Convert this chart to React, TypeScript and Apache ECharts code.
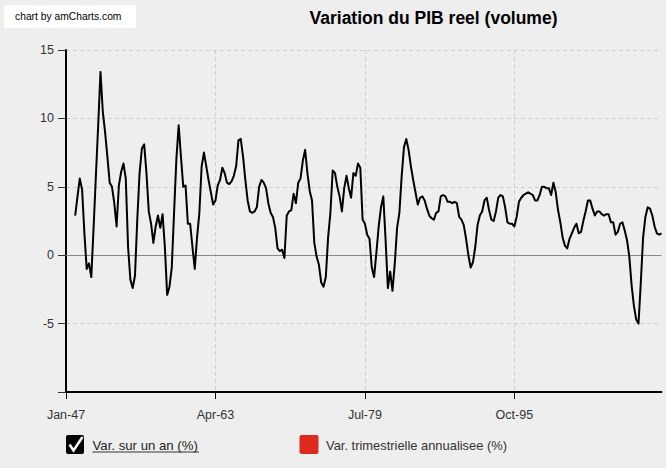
import React, { useEffect, useRef } from "react";
import * as echarts from "echarts";

// ---- Categories: quarterly, Jan-47 .. Oct-11 ----
const START_YEAR = 1947;
const QUARTER_COUNT = 260;
const QUARTER_MONTHS = ["Jan", "Apr", "Jul", "Oct"];
const categories: string[] = Array.from({ length: QUARTER_COUNT }, (_, i) => {
  const yy = String((START_YEAR + Math.floor(i / 4)) % 100).padStart(2, "0");
  return `${QUARTER_MONTHS[i % 4]}-${yy}`;
});

// ---- Series "Var. sur un an (%)" (year-over-year, quarterly) ----
const yoy1947: (number | null)[] = [null, null, null, null];
const yoy1948_1959 = [
  2.9, 4.3, 5.6, 4.8, 1.6, -1.0, -0.6, -1.6, 2.0, 5.8, 9.5, 13.4,
  10.5, 9.0, 7.2, 5.3, 5.0, 3.8, 2.1, 5.1, 6.1, 6.7, 5.6, 0.6,
  -1.8, -2.4, -1.5, 2.6, 6.0, 7.8, 8.1, 6.0, 3.2, 2.3, 0.9, 2.1,
  2.9, 2.0, 3.0, 0.6, -2.9, -2.3, -0.9, 3.1, 7.0, 9.5, 7.2, 5.0,
];
const yoy1960_1979 = [
  5.1, 2.3, 2.3, 0.6, -1.0, 1.3, 3.1, 6.5, 7.5, 6.5, 5.5, 4.6,
  3.7, 4.0, 5.1, 5.5, 6.4, 6.0, 5.3, 5.2, 5.4, 5.8, 6.5, 8.4,
  8.5, 7.2, 5.5, 4.0, 3.2, 3.1, 3.2, 3.5, 5.0, 5.5, 5.3, 4.9,
  3.8, 3.1, 2.8, 2.0, 0.5, 0.3, 0.4, -0.2, 2.9, 3.2, 3.3, 4.5,
  3.8, 5.3, 5.6, 6.9, 7.7, 6.0, 4.7, 4.0, 0.9, -0.1, -0.7, -2.0,
  -2.3, -1.6, 1.3, 3.1, 6.2, 6.0, 5.0, 4.3, 3.2, 4.9, 5.8, 4.9,
  4.2, 6.0, 5.8, 6.7, 6.4, 2.6, 2.3, 1.5,
];
const yoy1980_1999 = [
  1.2, -0.9, -1.6, 0.2, 2.1, 3.5, 4.3, 1.1, -2.4, -1.2, -2.6, -0.6,
  2.0, 3.1, 5.8, 7.9, 8.5, 7.7, 6.5, 5.5, 4.6, 3.7, 4.2, 4.3,
  4.0, 3.4, 2.9, 2.7, 2.6, 3.1, 3.2, 4.3, 4.4, 4.3, 3.9, 3.9,
  3.8, 3.9, 3.8, 2.8, 2.6, 2.2, 1.2, 0.0, -0.9, -0.5, 0.6, 2.2,
  2.9, 3.2, 4.0, 4.2, 3.3, 2.6, 2.5, 3.2, 4.2, 4.4, 4.3, 3.5,
  2.4, 2.3, 2.3, 2.1, 2.8, 3.9, 4.2, 4.4, 4.5, 4.6, 4.5, 4.4,
  4.0, 4.0, 4.4, 5.0, 5.0, 4.9, 4.9, 4.4,
];
const yoy2000_2011 = [
  5.3, 4.6, 3.3, 2.4, 1.3, 0.7, 0.5, 1.2, 1.6, 2.0, 2.3, 1.6,
  1.7, 2.5, 3.2, 4.0, 4.0, 3.4, 2.9, 3.2, 3.2, 3.0, 2.9, 3.0,
  3.0, 2.4, 2.4, 1.5, 1.7, 2.3, 2.4, 1.8, 1.1, -0.1, -2.2, -3.7,
  -4.7, -5.0, -2.0, 1.3, 2.8, 3.5, 3.4, 2.9, 2.1, 1.6, 1.5, 1.6,
];
const yoyValues: (number | null)[] = [
  ...yoy1947,
  ...yoy1948_1959,
  ...yoy1960_1979,
  ...yoy1980_1999,
  ...yoy2000_2011,
];

// ---- Axis / text ----
const Y_MIN = -10;
const Y_MAX = 15;
const Y_STEP = 5;
const LABEL_EVERY = 65; // one label every 65 quarters
const TITLE = "Variation du PIB reel (volume)";
const CREDIT = "chart by amCharts.com";
const LEGEND_1 = "Var. sur un an (%)";
const LEGEND_2 = "Var. trimestrielle annualisee (%)";

const FONT = "'Liberation Sans', Arial, Helvetica, sans-serif";

export default function App() {
  const ref = useRef<HTMLDivElement>(null);

  useEffect(() => {
    if (!ref.current) return;
    const chart = echarts.init(ref.current, undefined, { renderer: "svg" });
    const gridLine = { color: "#cfcfcf", type: [4, 3] as number[], width: 1 };

    chart.setOption({
      animation: false,
      backgroundColor: "#eeeeee",
      grid: { left: 66, right: 4.5, top: 50, bottom: 76, containLabel: false },
      xAxis: {
        type: "category",
        data: categories,
        boundaryGap: false,
        axisLine: { onZero: false, lineStyle: { color: "#000", width: 2 } },
        axisTick: {
          show: true,
          interval: LABEL_EVERY - 1,
          length: 7,
          lineStyle: { color: "#000", width: 1 },
        },
        axisLabel: {
          interval: LABEL_EVERY - 1,
          margin: 16,
          color: "#333",
          fontSize: 12.5,
          fontFamily: FONT,
        },
        splitLine: { show: true, interval: LABEL_EVERY - 1, lineStyle: gridLine },
      },
      yAxis: {
        type: "value",
        min: Y_MIN,
        max: Y_MAX,
        interval: Y_STEP,
        axisLine: { show: true, lineStyle: { color: "#000", width: 2 } },
        axisTick: { show: true, length: 8, lineStyle: { color: "#333", width: 1 } },
        axisLabel: {
          margin: 12,
          color: "#333",
          fontSize: 12.5,
          fontFamily: FONT,
          formatter: (v: number) => (v === Y_MIN ? "" : String(v)),
        },
        splitLine: { show: true, lineStyle: gridLine },
      },
      series: [
        {
          name: LEGEND_1,
          type: "line",
          data: yoyValues,
          symbol: "none",
          showSymbol: false,
          connectNulls: false,
          lineStyle: { color: "#000", width: 2, join: "round" },
          z: 3,
          markLine: {
            silent: true,
            symbol: "none",
            z: 1,
            label: { show: false },
            lineStyle: { color: "#888", width: 1, type: "solid" },
            data: [{ yAxis: 0 }],
          },
        },
      ],
      graphic: [
        {
          type: "rect",
          shape: { x: 4, y: 5, width: 132, height: 23 },
          style: { fill: "#ffffff" },
          silent: true,
        },
        {
          type: "text",
          x: 15,
          y: 16.5,
          style: {
            text: CREDIT,
            fill: "#000",
            font: `10.3px ${FONT}`,
            textVerticalAlign: "middle",
            verticalAlign: "middle",
          },
          silent: true,
        },
        {
          type: "text",
          x: 433.5,
          y: 17.5,
          style: {
            text: TITLE,
            fill: "#000",
            font: `bold 17.5px ${FONT}`,
            align: "center",
            textAlign: "center",
            verticalAlign: "middle",
            textVerticalAlign: "middle",
          },
          silent: true,
        },
        // legend item 1: checkbox
        {
          type: "rect",
          shape: { x: 66, y: 435, width: 18, height: 19, r: 2 },
          style: { fill: "#000" },
          silent: true,
        },
        {
          type: "polyline",
          shape: { points: [[69.5, 444.5], [73.5, 450.5], [82.5, 437]] },
          style: { stroke: "#fff", lineWidth: 2.5, fill: "none" },
          silent: true,
        },
        {
          type: "text",
          x: 92.5,
          y: 445,
          style: {
            text: LEGEND_1,
            fill: "#222",
            font: `13.2px ${FONT}`,
            verticalAlign: "middle",
            textVerticalAlign: "middle",
          },
          silent: true,
        },
        {
          type: "line",
          shape: { x1: 92.5, y1: 452, x2: 199, y2: 452 },
          style: { stroke: "#333", lineWidth: 1 },
          silent: true,
        },
        // legend item 2: red square
        {
          type: "rect",
          shape: { x: 299.5, y: 435, width: 19, height: 19, r: 2 },
          style: { fill: "#dd2a1f" },
          silent: true,
        },
        {
          type: "text",
          x: 326,
          y: 445,
          style: {
            text: LEGEND_2,
            fill: "#333",
            font: `12.9px ${FONT}`,
            verticalAlign: "middle",
            textVerticalAlign: "middle",
          },
          silent: true,
        },
      ],
    });

    return () => {
      chart.dispose();
    };
  }, []);

  return (
    <div
      style={{
        position: "absolute",
        left: 0,
        top: 0,
        width: 666,
        height: 468,
        background: "#eeeeee",
      }}
    >
      <div ref={ref} style={{ width: 666, height: 468 }} />
    </div>
  );
}
